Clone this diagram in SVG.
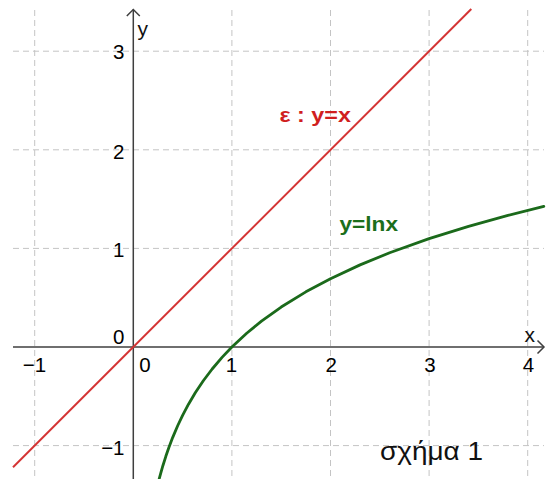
<svg xmlns="http://www.w3.org/2000/svg" width="554" height="479" viewBox="0 0 554 479">
  <style>
    .grid { stroke: #c4c4c4; stroke-width: 1; stroke-dasharray: 6 4; fill: none; }
    .axis { stroke: #3f3f3f; stroke-width: 1.5; fill: none; }
    .tick { font-family: "Liberation Sans", Arial, sans-serif; font-size: 20.5px; fill: #000; }
    .axlab { font-family: "Liberation Sans", Arial, sans-serif; font-size: 21px; fill: #111; }
    .lab { font-family: "Liberation Sans", Arial, sans-serif; font-size: 21px; font-weight: bold; }
  </style>
  <rect width="554" height="479" fill="#ffffff"/>

  <g id="grid">
    <line class="grid" x1="34.7" y1="10" x2="34.7" y2="479"/>
    <line class="grid" x1="231.9" y1="10" x2="231.9" y2="479"/>
    <line class="grid" x1="330.5" y1="10" x2="330.5" y2="479"/>
    <line class="grid" x1="429.1" y1="10" x2="429.1" y2="479"/>
    <line class="grid" x1="527.7" y1="10" x2="527.7" y2="479"/>
    <line class="grid" x1="13" y1="51.2" x2="544" y2="51.2"/>
    <line class="grid" x1="13" y1="149.8" x2="544" y2="149.8"/>
    <line class="grid" x1="13" y1="248.4" x2="544" y2="248.4"/>
    <line class="grid" x1="13" y1="445.6" x2="544" y2="445.6"/>
  </g>

  <g id="axes">
    <line class="axis" x1="13" y1="347" x2="544" y2="347"/>
    <polyline class="axis" points="537.5,340.5 544,347 537.5,353.5"/>
    <line class="axis" x1="133.3" y1="479" x2="133.3" y2="9.5"/>
    <polyline class="axis" points="126.8,16 133.3,9.5 139.8,16"/>
    <text class="axlab" x="137.5" y="36">y</text>
    <text class="axlab" x="524.5" y="341.5">x</text>
  </g>

  <g id="ticks">
    <text class="tick" x="124.5" y="59.3" text-anchor="end">3</text>
    <text class="tick" x="124.5" y="159.3" text-anchor="end">2</text>
    <text class="tick" x="124.5" y="256.7" text-anchor="end">1</text>
    <text class="tick" x="124.5" y="343.5" text-anchor="end">0</text>
    <text class="tick" x="124.5" y="455" text-anchor="end">−1</text>
    <text class="tick" x="34.5" y="371.7" text-anchor="middle">−1</text>
    <text class="tick" x="145" y="371.7" text-anchor="middle">0</text>
    <text class="tick" x="231.5" y="371.7" text-anchor="middle">1</text>
    <text class="tick" x="331.3" y="371.7" text-anchor="middle">2</text>
    <text class="tick" x="430" y="371.7" text-anchor="middle">3</text>
    <text class="tick" x="528.5" y="371.7" text-anchor="middle">4</text>
  </g>

  <g id="line-e">
    <line x1="13" y1="467.3" x2="471.3" y2="9" stroke="#d43434" stroke-width="2"/>
    <text class="lab" x="279.5" y="121.7" fill="#d01f1f" textLength="71.5" lengthAdjust="spacingAndGlyphs">ε : y=x</text>
  </g>

  <g id="curve-ln">
    <polyline fill="none" stroke="#1b6a1b" stroke-width="2.8" stroke-linejoin="round" stroke-linecap="round"
      points="159.13,479.07 160.91,472.52 162.88,465.71 165.84,456.32 168.80,447.74 172.74,437.35 177.67,425.73 182.60,415.34 188.52,404.17 195.42,392.56 203.31,380.77 212.18,369.00 222.04,357.39 231.90,347.00 246.69,333.22 261.48,321.13 281.20,307.02 305.85,291.82 330.50,278.66 360.08,264.87 389.66,252.79 429.10,238.68 468.54,226.33 507.98,215.37 543.80,206.37"/>
    <text class="lab" x="339.5" y="230.7" fill="#1b6e1b" textLength="58.5" lengthAdjust="spacingAndGlyphs">y=lnx</text>
  </g>

  <g id="caption">
    <text x="380" y="460" font-family="'Liberation Sans', Arial, sans-serif" font-size="25px" fill="#111" textLength="103" lengthAdjust="spacingAndGlyphs">σχήμα 1</text>
  </g>
</svg>
